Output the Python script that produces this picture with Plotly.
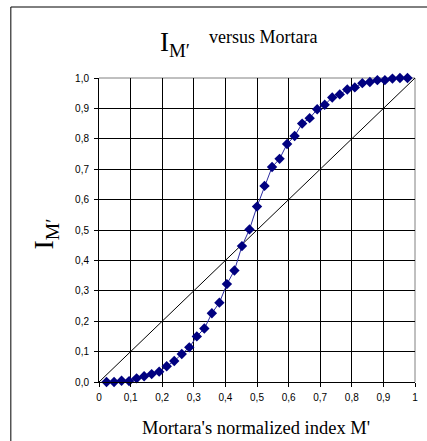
import plotly.graph_objects as go

# Data: Mortara's normalized index M' (x) and I_M' (y)
x_vals = [i / 42 for i in range(1, 42)]
y_vals = [0.000, 0.000, 0.004, 0.003, 0.012, 0.019, 0.026, 0.034, 0.052, 0.069,
          0.092, 0.114, 0.150, 0.176, 0.226, 0.261, 0.322, 0.367, 0.447, 0.502,
          0.577, 0.645, 0.707, 0.734, 0.783, 0.809, 0.850, 0.868, 0.897, 0.912,
          0.936, 0.946, 0.962, 0.969, 0.983, 0.987, 0.993, 0.993, 0.998, 1.000,
          1.000]
diag_x = [0, 1]
diag_y = [0, 1]
x_tickvals = [0, 0.1, 0.2, 0.3, 0.4, 0.5, 0.6, 0.7, 0.8, 0.9, 1.0]
x_ticktext = ["0", "0,1", "0,2", "0,3", "0,4", "0,5", "0,6", "0,7", "0,8", "0,9", "1"]
y_tickvals = [0, 0.1, 0.2, 0.3, 0.4, 0.5, 0.6, 0.7, 0.8, 0.9, 1.0]
y_ticktext = ["0,0", "0,1", "0,2", "0,3", "0,4", "0,5", "0,6", "0,7", "0,8", "0,9", "1,0"]

W, H = 427, 441
ML, MR, MT, MB = 99, 9, 78, 59
PW, PH = W - ML - MR, H - MT - MB


def px(p):
    return (p - ML) / PW


def py(p):
    return (H - MB - p) / PH


fig = go.Figure()
fig.add_trace(go.Scatter(x=diag_x, y=diag_y, mode="lines",
                         line=dict(color="black", width=1), showlegend=False,
                         hoverinfo="skip"))
fig.add_trace(go.Scatter(x=x_vals, y=y_vals, mode="lines+markers",
                         line=dict(color="#2b2ba0", width=1),
                         marker=dict(symbol="diamond", size=8, color="#000080"),
                         showlegend=False, cliponaxis=False))

serif = "Liberation Serif, Times New Roman, serif"
sans = "Liberation Sans, Arial, sans-serif"

fig.update_layout(
    width=W, height=H,
    margin=dict(l=ML, r=MR, t=MT, b=MB, pad=0),
    paper_bgcolor="white", plot_bgcolor="white",
    font=dict(family=sans, size=10, color="black"),
    xaxis=dict(range=[0, 1], tickvals=x_tickvals, ticktext=x_ticktext,
               showgrid=True, gridcolor="black", gridwidth=1,
               showline=True, linecolor="black", linewidth=1,
               ticks="outside", ticklen=4, tickcolor="black",
               ticklabelstandoff=2,
               zeroline=False, tickfont=dict(family=sans, size=10)),
    yaxis=dict(range=[0, 1], tickvals=y_tickvals, ticktext=y_ticktext,
               showgrid=True, gridcolor="black", gridwidth=1,
               showline=True, linecolor="black", linewidth=1,
               ticks="outside", ticklen=4, tickcolor="black",
               ticklabelstandoff=3,
               zeroline=False, tickfont=dict(family=sans, size=10)),
    shapes=[
        dict(type="line", xref="paper", yref="paper", x0=0, x1=1, y0=1, y1=1,
             line=dict(color="#808080", width=1), layer="below"),
        dict(type="line", xref="paper", yref="paper", x0=1, x1=1, y0=0, y1=1,
             line=dict(color="#808080", width=1), layer="below"),
        dict(type="rect", xref="paper", yref="paper",
             x0=px(10), x1=px(440), y0=py(455), y1=py(7),
             line=dict(color="black", width=1), fillcolor="rgba(0,0,0,0)"),
    ],
    annotations=[
        dict(text="I<sub>M′</sub>", xref="paper", yref="paper",
             x=px(176), y=py(44), xanchor="center", yanchor="middle",
             showarrow=False, font=dict(family=serif, size=27, color="black")),
        dict(text="versus Mortara", xref="paper", yref="paper",
             x=px(265), y=py(37), xanchor="center", yanchor="middle",
             showarrow=False, font=dict(family=serif, size=18, color="black")),
        dict(text="I<sub>M′</sub>", xref="paper", yref="paper",
             x=px(46), y=py(234), xanchor="center", yanchor="middle",
             textangle=-90,
             showarrow=False, font=dict(family=serif, size=28, color="black")),
        dict(text="Mortara's normalized index M'", xref="paper", yref="paper",
             x=px(257), y=py(428), xanchor="center", yanchor="middle",
             showarrow=False, font=dict(family=serif, size=18.5, color="black")),
    ],
)

fig.write_html("out.html", config={"displayModeBar": False},
               post_script="document.body.style.margin='0';document.body.style.overflow='hidden';")
